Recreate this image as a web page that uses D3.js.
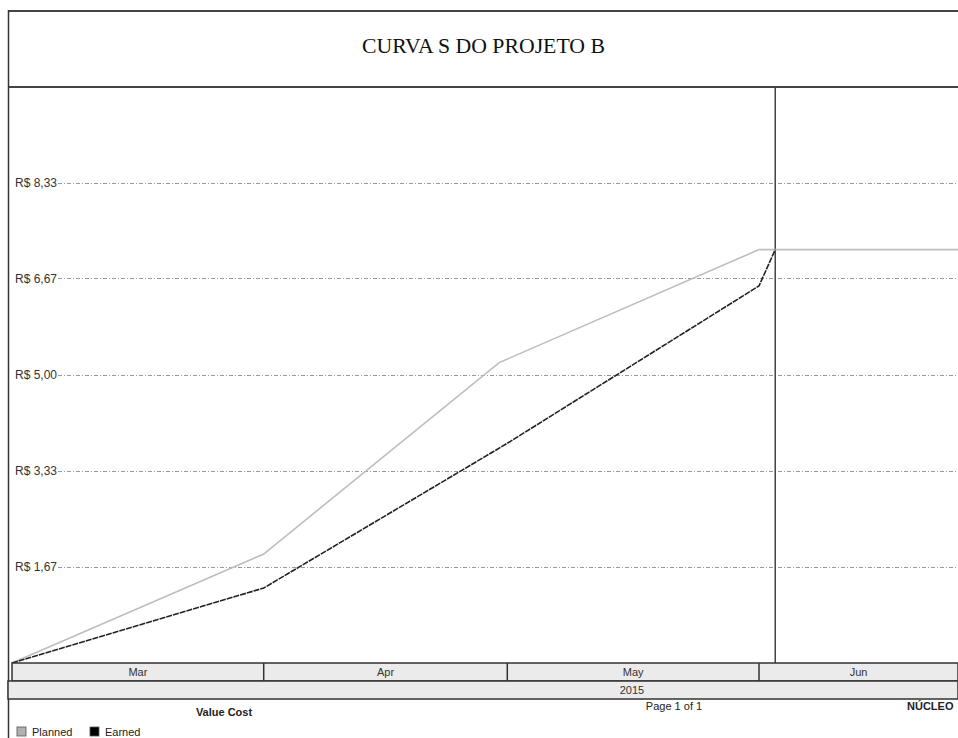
<!DOCTYPE html>
<html>
<head>
<meta charset="utf-8">
<script src="https://cdn.jsdelivr.net/npm/d3@7"></script>
<style>
  body { margin: 0; background: #fff; }
  svg { display: block; }
  text { font-family: "Liberation Sans", Arial, sans-serif; fill: #222; }
</style>
</head>
<body>
<svg id="chart"></svg>
<script>
var W = 958, H = 738;
var parse = d3.timeParse("%Y-%m-%d");

// data (values in R$)
var plannedDates  = ["2015-03-01", "2015-04-01", "2015-04-30", "2015-06-01", "2015-06-26"];
var plannedValues = [0, 1.89, 5.21, 7.17, 7.17];
var earnedDates   = ["2015-03-01", "2015-04-01", "2015-05-01", "2015-06-01", "2015-06-03"];
var earnedValues  = [0, 1.30, 3.81, 6.54, 7.17];
var statusDate = "2015-06-03";
var yTicks = [1.67, 3.33, 5.00, 6.67, 8.33];
var yTickLabels = ["R$ 1,67", "R$ 3,33", "R$ 5,00", "R$ 6,67", "R$ 8,33"];
var monthStarts = ["2015-03-01", "2015-04-01", "2015-05-01", "2015-06-01", "2015-07-01"];
var monthLabels = ["Mar", "Apr", "May", "Jun"];

var plot = {left: 12, right: 958, top: 87, bottom: 663};

var svg = d3.select("#chart").attr("width", W).attr("height", H);

var x = d3.scaleTime()
    .domain([parse("2015-03-01"), parse("2015-06-01")])
    .range([plot.left, 759]);
var y = d3.scaleLinear()
    .domain([0, 10])
    .range([plot.bottom, plot.bottom - 6 * 96.1]);

// header box
svg.append("line").attr("x1", 8).attr("x2", W).attr("y1", 11).attr("y2", 11)
    .attr("stroke", "#444").attr("stroke-width", 2);
svg.append("line").attr("x1", 8).attr("x2", W).attr("y1", 87).attr("y2", 87)
    .attr("stroke", "#444").attr("stroke-width", 2);
svg.append("line").attr("x1", 8.5).attr("x2", 8.5).attr("y1", 10).attr("y2", H)
    .attr("stroke", "#333").attr("stroke-width", 1.5);
svg.append("text")
    .attr("x", 362).attr("y", 53)
    .attr("textLength", 243).attr("lengthAdjust", "spacingAndGlyphs")
    .style("font-family", "'Liberation Serif', 'Times New Roman', serif")
    .style("font-size", "21px").style("fill", "#111")
    .text("CURVA S DO PROJETO B");

// gridlines + y labels
var grid = svg.append("g");
yTicks.forEach(function (v, i) {
  grid.append("line")
    .attr("x1", 58).attr("x2", W)
    .attr("y1", Math.round(y(v)) + 0.5).attr("y2", Math.round(y(v)) + 0.5)
    .attr("stroke", "#999").attr("stroke-width", 1)
    .attr("stroke-dasharray", "4,2,1,2");
  grid.append("text")
    .attr("x", 15).attr("y", y(v)).attr("dy", "0.35em")
    .style("font-size", "12px").style("fill", "#333")
    .text(yTickLabels[i]);
});

// status date line
svg.append("line")
    .attr("x1", x(parse(statusDate))).attr("x2", x(parse(statusDate)))
    .attr("y1", plot.top).attr("y2", plot.bottom)
    .attr("stroke", "#444").attr("stroke-width", 1.5);

// curves
var line = d3.line().x(function (d) { return x(d.date); }).y(function (d) { return y(d.value); });
var planned = plannedDates.map(function (d, i) { return {date: parse(d), value: plannedValues[i]}; });
var earned = earnedDates.map(function (d, i) { return {date: parse(d), value: earnedValues[i]}; });

svg.append("path").datum(planned)
    .attr("d", line).attr("fill", "none")
    .attr("stroke", "#bdbdbd").attr("stroke-width", 1.6);
svg.append("path").datum(earned)
    .attr("d", line).attr("fill", "none")
    .attr("stroke", "#222").attr("stroke-width", 1.6)
    .attr("stroke-dasharray", "6,1");

// month band
var bandY = plot.bottom, bandH = 18;
svg.append("rect").attr("x", plot.left).attr("y", bandY).attr("width", W - plot.left).attr("height", bandH)
    .attr("fill", "#ebebeb").attr("stroke", "#333").attr("stroke-width", 1.5);
svg.append("rect").attr("x", 8).attr("y", bandY + bandH).attr("width", W - 8).attr("height", bandH)
    .attr("fill", "#ebebeb").attr("stroke", "#333").attr("stroke-width", 1.5);

monthLabels.forEach(function (m, i) {
  var x0 = x(parse(monthStarts[i])), x1 = Math.min(x(parse(monthStarts[i + 1])), W);
  if (i > 0) {
    svg.append("line").attr("x1", x0).attr("x2", x0)
      .attr("y1", bandY).attr("y2", bandY + bandH)
      .attr("stroke", "#333").attr("stroke-width", 1.5);
  }
  svg.append("text")
    .attr("x", (x0 + x1) / 2).attr("y", bandY + 13)
    .attr("text-anchor", "middle")
    .style("font-size", "11px").style("fill", "#333")
    .text(m);
});
svg.append("text").attr("x", 632).attr("y", bandY + bandH + 13)
    .attr("text-anchor", "middle").style("font-size", "11px").style("fill", "#333")
    .text("2015");

// footer
svg.append("text").attr("x", 224).attr("y", 716).attr("text-anchor", "middle")
    .style("font-size", "11px").style("font-weight", "bold").text("Value Cost");
svg.append("text").attr("x", 674).attr("y", 710).attr("text-anchor", "middle")
    .style("font-size", "11px").text("Page 1 of 1");
svg.append("text").attr("x", 907).attr("y", 710)
    .style("font-size", "11px").style("font-weight", "bold").text("NÚCLEO");

var legend = [{label: "Planned", color: "#b0b0b0", x: 17}, {label: "Earned", color: "#000", x: 90}];
legend.forEach(function (l) {
  svg.append("rect").attr("x", l.x).attr("y", 727).attr("width", 9).attr("height", 9)
    .attr("fill", l.color).attr("stroke", "#555").attr("stroke-width", 0.8);
  svg.append("text").attr("x", l.x + 15).attr("y", 735.5)
    .style("font-size", "11px").text(l.label);
});
</script>
</body>
</html>
